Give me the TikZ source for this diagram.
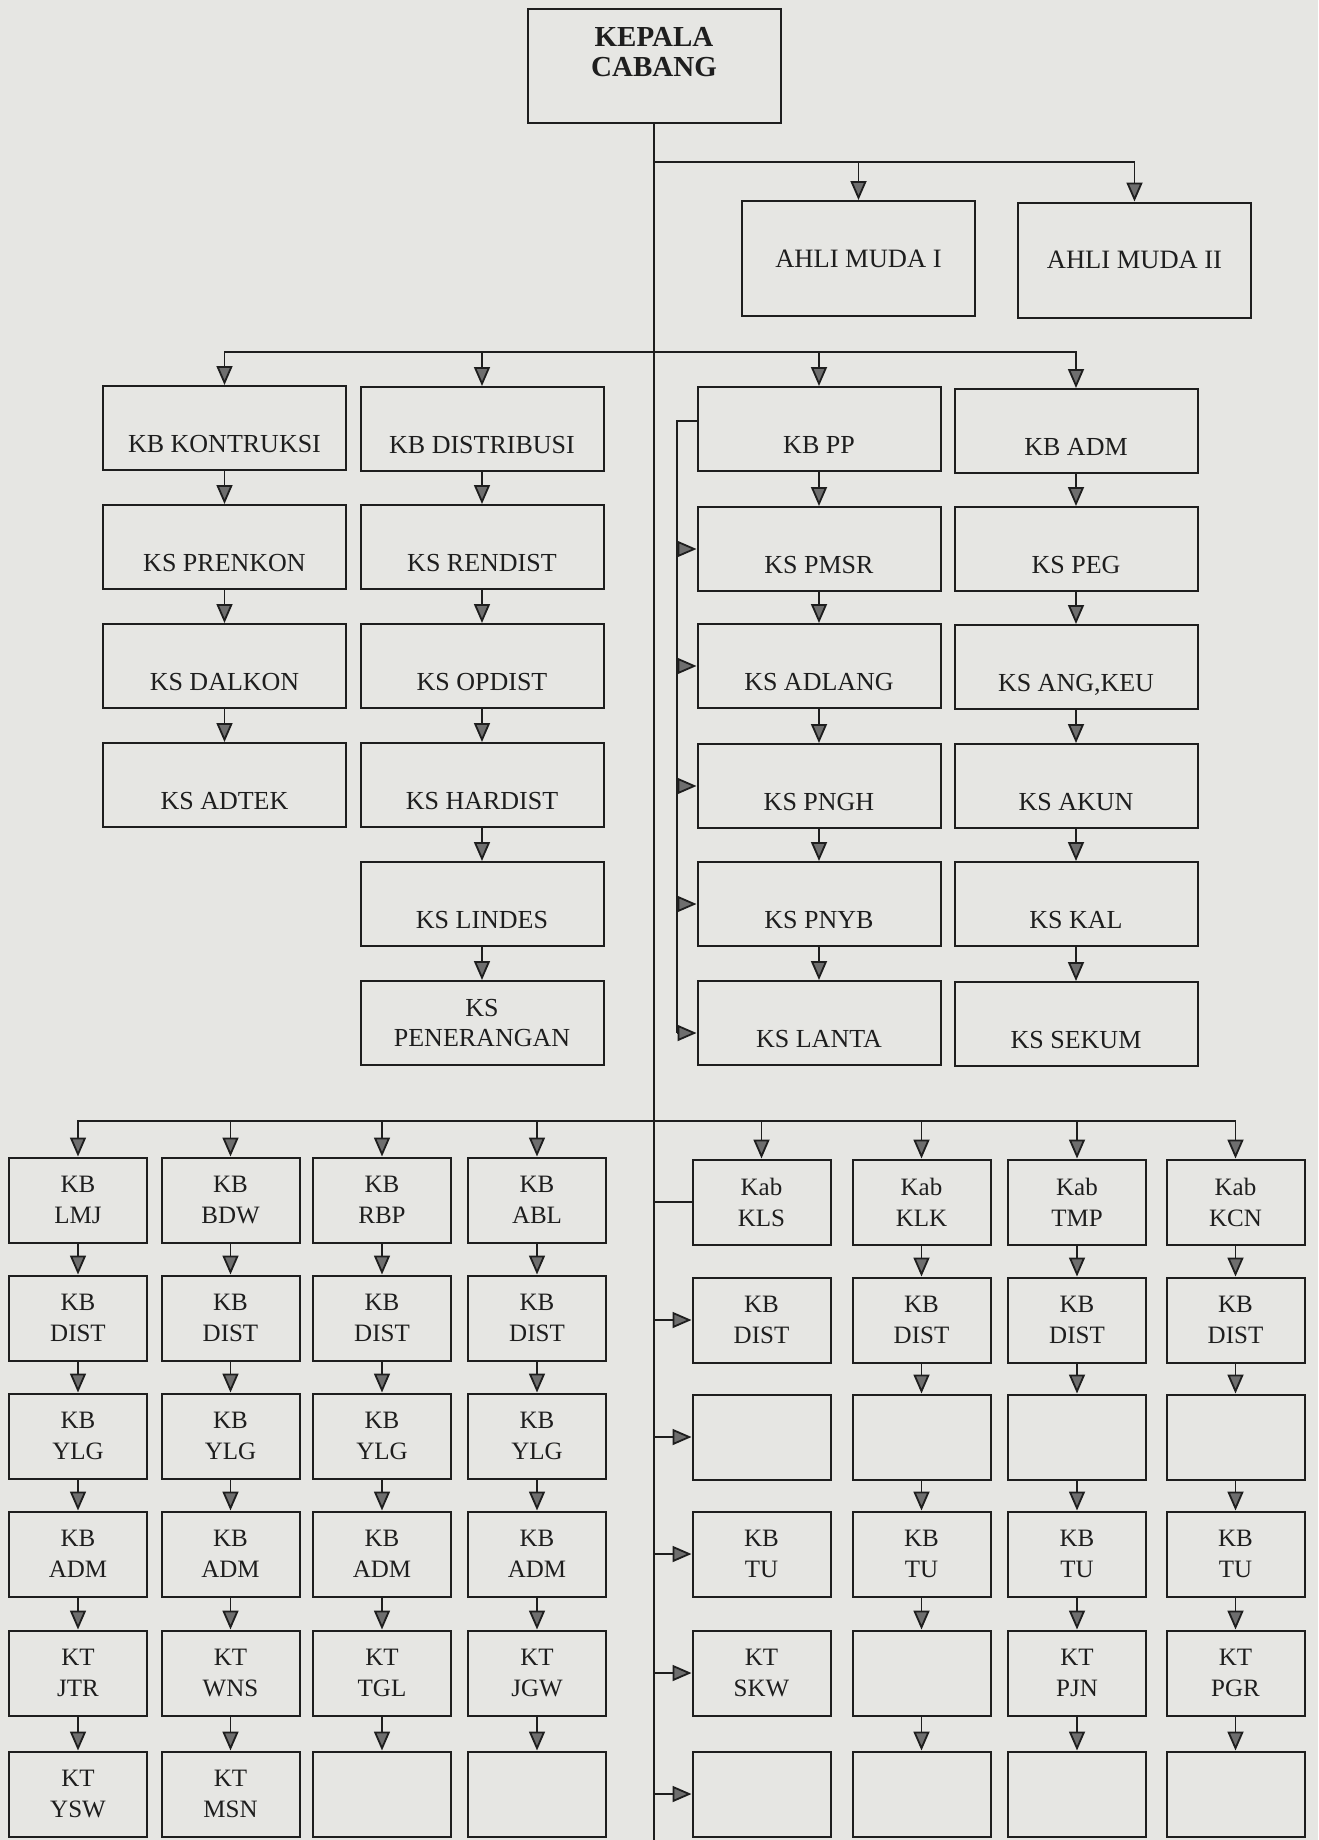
\documentclass[tikz,border=0pt]{standalone}
\usepackage{fontspec}
\setmainfont{Liberation Serif}
\usetikzlibrary{arrows.meta}
\definecolor{cpaper}{HTML}{E6E6E3}
\definecolor{cink}{HTML}{1E1E1E}
\definecolor{ctip}{HTML}{6E6E6E}
\tikzset{
  every picture/.style={line width=1.8pt, color=cink},
  box/.style={draw=cink, line width=2pt, align=center, inner sep=2pt, minimum width=243pt, minimum height=84pt, font=\fontsize{26}{30}\selectfont},
  lowbox/.style={box, text height=49pt, text depth=0pt},
  smallbox/.style={box, minimum width=138pt, minimum height=85pt, font=\fontsize{25}{31}\selectfont},
  headbox/.style={box, minimum width=253pt, minimum height=114pt, text depth=28pt, font=\bfseries\fontsize{29}{30.5}\selectfont},
  ahlibox/.style={box, minimum width=233pt, minimum height=115pt, font=\fontsize{26.5}{30}\selectfont},
  arrow/.style={-{Triangle[length=19pt, width=16pt, fill=ctip]}, draw=cink, line width=1.8pt},
}

\begin{document}
\begin{tikzpicture}[x=1pt, y=-1pt]
  \useasboundingbox (0,0) rectangle (1318,1840);
  \fill[cpaper] (0,0) rectangle (1318,1840);

  % pimpinan
  \node[headbox] (kepala) at (654,66) {KEPALA\\CABANG};
  \node[ahlibox] (ahli1) at (858.5,258.5) {AHLI MUDA I};
  \node[ahlibox] (ahli2) at (1134.5,260) {AHLI MUDA II};
  \coordinate (spine) at (654,1840);
  \coordinate (j1) at (654,162);
  \coordinate (j2) at (654,352);
  \coordinate (j3) at (654,1121);
  \draw (kepala.south) -- (spine);
  \draw[arrow] (j1) -| (ahli1.north);
  \draw[arrow] (j1) -| (ahli2.north);

  % bidang
  \node[lowbox] (kontruksi) at (224.5,428) {KB KONTRUKSI};
  \node[lowbox] (prenkon) at (224.5,547) {KS PRENKON};
  \node[lowbox] (dalkon) at (224.5,666) {KS DALKON};
  \node[lowbox] (adtek) at (224.5,785) {KS ADTEK};
  \node[lowbox] (distribusi) at (482,429) {KB DISTRIBUSI};
  \node[lowbox] (rendist) at (482,547) {KS RENDIST};
  \node[lowbox] (opdist) at (482,666) {KS OPDIST};
  \node[lowbox] (hardist) at (482,785) {KS HARDIST};
  \node[lowbox] (lindes) at (482,904) {KS LINDES};
  \node[box] (penerangan) at (482,1023) {KS\\PENERANGAN};
  \node[lowbox] (pp) at (819,429) {KB PP};
  \node[lowbox] (pmsr) at (819,549) {KS PMSR};
  \node[lowbox] (adlang) at (819,666) {KS ADLANG};
  \node[lowbox] (pngh) at (819,786) {KS PNGH};
  \node[lowbox] (pnyb) at (819,904) {KS PNYB};
  \node[lowbox] (lanta) at (819,1023) {KS LANTA};
  \node[lowbox] (adm) at (1076,431) {KB ADM};
  \node[lowbox] (peg) at (1076,549) {KS PEG};
  \node[lowbox] (angkeu) at (1076,667) {KS ANG,KEU};
  \node[lowbox] (akun) at (1076,786) {KS AKUN};
  \node[lowbox] (kal) at (1076,904) {KS KAL};
  \node[lowbox] (sekum) at (1076,1024) {KS SEKUM};

  \draw[arrow] (j2) -| (kontruksi.north);
  \draw[arrow] (j2) -| (distribusi.north);
  \draw[arrow] (j2) -| (pp.north);
  \draw[arrow] (j2) -| (adm.north);
  \draw[arrow] (kontruksi) -- (prenkon); \draw[arrow] (prenkon) -- (dalkon); \draw[arrow] (dalkon) -- (adtek);
  \draw[arrow] (distribusi) -- (rendist); \draw[arrow] (rendist) -- (opdist); \draw[arrow] (opdist) -- (hardist);
  \draw[arrow] (hardist) -- (lindes); \draw[arrow] (lindes) -- (penerangan);
  \draw[arrow] (pp) -- (pmsr); \draw[arrow] (pmsr) -- (adlang); \draw[arrow] (adlang) -- (pngh);
  \draw[arrow] (pngh) -- (pnyb); \draw[arrow] (pnyb) -- (lanta);
  \draw[arrow] (adm) -- (peg); \draw[arrow] (peg) -- (angkeu); \draw[arrow] (angkeu) -- (akun);
  \draw[arrow] (akun) -- (kal); \draw[arrow] (kal) -- (sekum);

  % jalur samping KB PP
  \coordinate (ppbus) at (677,1033);
  \draw ([yshift=8pt]pp.west) -| (ppbus);
  \draw[arrow] (ppbus |- pmsr.west) -- (pmsr.west);
  \draw[arrow] (ppbus |- adlang.west) -- (adlang.west);
  \draw[arrow] (ppbus |- pngh.west) -- (pngh.west);
  \draw[arrow] (ppbus |- pnyb.west) -- (pnyb.west);
  \draw[arrow] (ppbus) -- (ppbus -| lanta.west);

  % ranting kiri
  \node[smallbox] (lmj) at (78,1200) {KB\\LMJ};
  \node[smallbox] (lmjdist) at (78,1318) {KB\\DIST};
  \node[smallbox] (lmjylg) at (78,1436) {KB\\YLG};
  \node[smallbox] (lmjadm) at (78,1554) {KB\\ADM};
  \node[smallbox] (jtr) at (78,1673) {KT\\JTR};
  \node[smallbox] (ysw) at (78,1794) {KT\\YSW};
  \node[smallbox] (bdw) at (230.5,1200) {KB\\BDW};
  \node[smallbox] (bdwdist) at (230.5,1318) {KB\\DIST};
  \node[smallbox] (bdwylg) at (230.5,1436) {KB\\YLG};
  \node[smallbox] (bdwadm) at (230.5,1554) {KB\\ADM};
  \node[smallbox] (wns) at (230.5,1673) {KT\\WNS};
  \node[smallbox] (msn) at (230.5,1794) {KT\\MSN};
  \node[smallbox] (rbp) at (382,1200) {KB\\RBP};
  \node[smallbox] (rbpdist) at (382,1318) {KB\\DIST};
  \node[smallbox] (rbpylg) at (382,1436) {KB\\YLG};
  \node[smallbox] (rbpadm) at (382,1554) {KB\\ADM};
  \node[smallbox] (tgl) at (382,1673) {KT\\TGL};
  \node[smallbox] (rbpend) at (382,1794) {};
  \node[smallbox] (abl) at (537,1200) {KB\\ABL};
  \node[smallbox] (abldist) at (537,1318) {KB\\DIST};
  \node[smallbox] (ablylg) at (537,1436) {KB\\YLG};
  \node[smallbox] (abladm) at (537,1554) {KB\\ADM};
  \node[smallbox] (jgw) at (537,1673) {KT\\JGW};
  \node[smallbox] (ablend) at (537,1794) {};

  % ranting kanan
  \node[smallbox] (kls) at (761.5,1202) {Kab\\KLS};
  \node[smallbox] (klsdist) at (761.5,1320) {KB\\DIST};
  \node[smallbox] (klsblank) at (761.5,1437) {};
  \node[smallbox] (klstu) at (761.5,1554) {KB\\TU};
  \node[smallbox] (skw) at (761.5,1673) {KT\\SKW};
  \node[smallbox] (klsend) at (761.5,1794) {};
  \node[smallbox] (klk) at (921.5,1202) {Kab\\KLK};
  \node[smallbox] (klkdist) at (921.5,1320) {KB\\DIST};
  \node[smallbox] (klkblank) at (921.5,1437) {};
  \node[smallbox] (klktu) at (921.5,1554) {KB\\TU};
  \node[smallbox] (klkkt) at (921.5,1673) {};
  \node[smallbox] (klkend) at (921.5,1794) {};
  \node[smallbox] (tmp) at (1077,1202) {Kab\\TMP};
  \node[smallbox] (tmpdist) at (1077,1320) {KB\\DIST};
  \node[smallbox] (tmpblank) at (1077,1437) {};
  \node[smallbox] (tmptu) at (1077,1554) {KB\\TU};
  \node[smallbox] (pjn) at (1077,1673) {KT\\PJN};
  \node[smallbox] (tmpend) at (1077,1794) {};
  \node[smallbox] (kcn) at (1235.5,1202) {Kab\\KCN};
  \node[smallbox] (kcndist) at (1235.5,1320) {KB\\DIST};
  \node[smallbox] (kcnblank) at (1235.5,1437) {};
  \node[smallbox] (kcntu) at (1235.5,1554) {KB\\TU};
  \node[smallbox] (pgr) at (1235.5,1673) {KT\\PGR};
  \node[smallbox] (kcnend) at (1235.5,1794) {};

  \draw[arrow] (j3) -| (lmj.north); \draw[arrow] (j3) -| (bdw.north);
  \draw[arrow] (j3) -| (rbp.north); \draw[arrow] (j3) -| (abl.north);
  \draw[arrow] (j3) -| (kls.north); \draw[arrow] (j3) -| (klk.north);
  \draw[arrow] (j3) -| (tmp.north); \draw[arrow] (j3) -| (kcn.north);

  \draw[arrow] (lmj) -- (lmjdist); \draw[arrow] (lmjdist) -- (lmjylg); \draw[arrow] (lmjylg) -- (lmjadm);
  \draw[arrow] (lmjadm) -- (jtr); \draw[arrow] (jtr) -- (ysw);
  \draw[arrow] (bdw) -- (bdwdist); \draw[arrow] (bdwdist) -- (bdwylg); \draw[arrow] (bdwylg) -- (bdwadm);
  \draw[arrow] (bdwadm) -- (wns); \draw[arrow] (wns) -- (msn);
  \draw[arrow] (rbp) -- (rbpdist); \draw[arrow] (rbpdist) -- (rbpylg); \draw[arrow] (rbpylg) -- (rbpadm);
  \draw[arrow] (rbpadm) -- (tgl); \draw[arrow] (tgl) -- (rbpend);
  \draw[arrow] (abl) -- (abldist); \draw[arrow] (abldist) -- (ablylg); \draw[arrow] (ablylg) -- (abladm);
  \draw[arrow] (abladm) -- (jgw); \draw[arrow] (jgw) -- (ablend);

  \draw (kls.west) -- (kls.west -| j3);
  \draw[arrow] (klsdist.west -| j3) -- (klsdist.west);
  \draw[arrow] (klsblank.west -| j3) -- (klsblank.west);
  \draw[arrow] (klstu.west -| j3) -- (klstu.west);
  \draw[arrow] (skw.west -| j3) -- (skw.west);
  \draw[arrow] (klsend.west -| j3) -- (klsend.west);

  \draw[arrow] (klk) -- (klkdist); \draw[arrow] (klkdist) -- (klkblank); \draw[arrow] (klkblank) -- (klktu);
  \draw[arrow] (klktu) -- (klkkt); \draw[arrow] (klkkt) -- (klkend);
  \draw[arrow] (tmp) -- (tmpdist); \draw[arrow] (tmpdist) -- (tmpblank); \draw[arrow] (tmpblank) -- (tmptu);
  \draw[arrow] (tmptu) -- (pjn); \draw[arrow] (pjn) -- (tmpend);
  \draw[arrow] (kcn) -- (kcndist); \draw[arrow] (kcndist) -- (kcnblank); \draw[arrow] (kcnblank) -- (kcntu);
  \draw[arrow] (kcntu) -- (pgr); \draw[arrow] (pgr) -- (kcnend);
\end{tikzpicture}
\end{document}
